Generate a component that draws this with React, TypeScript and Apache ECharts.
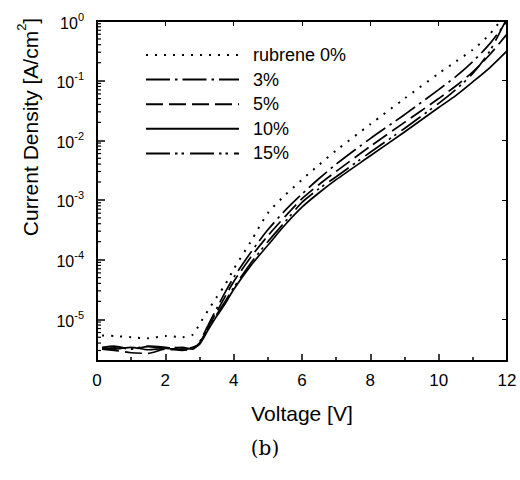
import React, { useEffect, useRef } from 'react';
import * as echarts from 'echarts';

// Voltage [V]
const voltages = [0.15, 0.5, 1.0, 1.5, 2.0, 2.5, 2.8, 3.0, 3.25, 3.5, 3.75, 4.0, 4.5, 5.0, 5.5, 6.0, 6.5, 7.0, 8.0, 9.0, 10.0, 10.5, 11.0, 11.5, 12.0];

// Current density [A/cm^2]
const rubrene0 = [5.37e-6, 5.25e-6, 5.01e-6, 4.79e-6, 5.25e-6, 5.01e-6, 5.5e-6, 8.32e-6, 1.41e-5, 2.34e-5, 3.8e-5, 6.92e-5, 2.0e-4, 6.03e-4, 1.2e-3, 2.19e-3, 3.89e-3, 6.76e-3, 1.86e-2, 5.01e-2, 0.132, 0.209, 0.331, 0.603, 1.41];
const rubrene3 = [3.39e-6, 3.55e-6, 3.16e-6, 3.47e-6, 3.31e-6, 3.39e-6, 3.16e-6, 4.17e-6, 7.94e-6, 1.51e-5, 2.82e-5, 5.01e-5, 1.32e-4, 3.16e-4, 6.61e-4, 1.26e-3, 2.29e-3, 3.98e-3, 1.07e-2, 2.69e-2, 7.08e-2, 0.117, 0.209, 0.417, 1.0];
const rubrene5 = [3.16e-6, 3.02e-6, 2.75e-6, 2.69e-6, 3.16e-6, 3.02e-6, 3.24e-6, 3.98e-6, 7.24e-6, 1.32e-5, 2.4e-5, 4.27e-5, 1.1e-4, 2.51e-4, 5.25e-4, 1.05e-3, 1.82e-3, 3.02e-3, 7.94e-3, 2.0e-2, 5.01e-2, 8.13e-2, 0.141, 0.275, 0.603];
const rubrene10 = [3.31e-6, 3.16e-6, 3.39e-6, 3.09e-6, 3.24e-6, 3.16e-6, 3.31e-6, 3.8e-6, 6.61e-6, 1.12e-5, 1.82e-5, 3.16e-5, 7.94e-5, 1.74e-4, 3.8e-4, 7.59e-4, 1.32e-3, 2.19e-3, 5.5e-3, 1.38e-2, 3.55e-2, 5.62e-2, 9.55e-2, 0.166, 0.316];
const rubrene15 = [3.24e-6, 3.31e-6, 3.24e-6, 3.55e-6, 3.39e-6, 3.16e-6, 3.39e-6, 3.98e-6, 6.92e-6, 1.2e-5, 2.0e-5, 3.39e-5, 8.71e-5, 2.0e-4, 4.27e-4, 9.12e-4, 1.55e-3, 2.45e-3, 6.31e-3, 1.58e-2, 4.17e-2, 7.08e-2, 0.132, 0.316, 1.12];

const seriesNames = ['rubrene 0%', '3%', '5%', '10%', '15%'];
const seriesValues = [rubrene0, rubrene3, rubrene5, rubrene10, rubrene15];

const X_MIN = 0;
const X_MAX = 12;
const Y_MIN = 2e-6;
const Y_MAX = 1;

const FONT = '"Liberation Sans", Arial, sans-serif';

// log-axis minor tick positions (2..9 x 10^n)
const minorTickValues: number[] = [];
for (let n = -6; n <= -1; n++) {
  for (let k = 2; k <= 9; k++) {
    const v = k * Math.pow(10, n);
    if (v >= Y_MIN && v < Y_MAX) minorTickValues.push(v);
  }
}

const dashStyles: any[] = [
  [2, 7],
  [24, 5, 2.5, 5],
  [17, 6],
  'solid',
  [24, 5, 2.5, 4, 2.5, 6],
];

export default function App() {
  const ref = useRef<HTMLDivElement>(null);
  useEffect(() => {
    const chart = echarts.init(ref.current!, null, { renderer: 'svg' });
    const lineSeries = seriesNames.map((name, si) => ({
      name,
      type: 'line',
      xAxisIndex: 0,
      yAxisIndex: 0,
      data: voltages.map((v, i) => [v, seriesValues[si][i]]),
      symbol: 'none',
      symbolSize: 0,
      smooth: 0.25,
      clip: true,
      lineStyle: { color: '#000', width: si === 0 ? 2 : 1.7, type: dashStyles[si] },
      itemStyle: { color: '#000' },
      z: 3,
    }));
    const option: any = {
      animation: false,
      backgroundColor: '#fff',
      textStyle: { fontFamily: FONT, color: '#000' },
      grid: { left: 97, right: 13, top: 21, bottom: 119, containLabel: false },
      legend: {
        data: seriesNames,
        orient: 'vertical',
        left: 140,
        top: 41,
        itemWidth: 93,
        itemHeight: 18,
        itemGap: 6.6,
        itemStyle: { opacity: 0 },
        textStyle: { fontSize: 18, color: '#000', fontFamily: FONT, padding: [0, 0, 0, 9] },
        selectedMode: false,
      },
      xAxis: [
        {
          type: 'value', position: 'bottom', min: X_MIN, max: X_MAX, interval: 2,
          axisLine: { show: true, onZero: false, lineStyle: { color: '#000', width: 2 } },
          axisTick: { show: true, inside: true, length: 7, lineStyle: { color: '#000', width: 1.5 } },
          minorTick: { show: true, splitNumber: 2, length: 4, lineStyle: { color: '#000', width: 1.5 } },
          axisLabel: { fontSize: 17, color: '#000', margin: 11, fontFamily: FONT },
          splitLine: { show: false },
          name: 'Voltage [V]', nameLocation: 'middle', nameGap: 42,
          nameTextStyle: { fontSize: 21, color: '#000', fontFamily: FONT },
        },
        {
          type: 'value', position: 'top', min: X_MIN, max: X_MAX, interval: 2,
          axisLine: { show: true, onZero: false, lineStyle: { color: '#000', width: 2 } },
          axisTick: { show: true, inside: true, length: 5, lineStyle: { color: '#000', width: 1 } },
          axisLabel: { show: false },
          splitLine: { show: false },
        },
      ],
      yAxis: [
        {
          type: 'log', logBase: 10, position: 'left', min: Y_MIN, max: Y_MAX,
          axisLine: { show: true, onZero: false, lineStyle: { color: '#000', width: 2 } },
          axisTick: { show: true, inside: true, length: 8, lineStyle: { color: '#000', width: 1.5 } },
          axisLabel: {
            margin: 13, color: '#000', fontFamily: FONT,
            formatter: (v: number) => {
              const e = Math.log10(v);
              const r = Math.round(e);
              if (Math.abs(e - r) > 1e-6) return '';
              return '{base|10}{sup|' + r + '}';
            },
            rich: {
              base: { fontSize: 16, lineHeight: 20, verticalAlign: 'bottom', color: '#000', fontFamily: FONT },
              sup: { fontSize: 11, lineHeight: 12, verticalAlign: 'top', color: '#000', fontFamily: FONT },
            },
          },
          splitLine: { show: false },
        },
        {
          type: 'log', logBase: 10, position: 'right', min: Y_MIN, max: Y_MAX,
          axisLine: { show: true, onZero: false, lineStyle: { color: '#000', width: 2 } },
          axisTick: { show: true, inside: true, length: 5, lineStyle: { color: '#000', width: 1 } },
          axisLabel: { show: false },
          splitLine: { show: false },
        },
      ],
      series: [
        ...lineSeries,
        {
          type: 'custom',
          name: 'minorTicks',
          xAxisIndex: 0,
          yAxisIndex: 0,
          silent: true,
          clip: false,
          z: 4,
          data: minorTickValues.map((v) => [X_MIN, v]),
          renderItem: (params: any, api: any) => {
            const p = api.coord([X_MIN, api.value(1)]);
            return {
              type: 'line',
              shape: { x1: p[0], y1: p[1], x2: p[0] + 4, y2: p[1] },
              style: { stroke: '#000', lineWidth: 1.2 },
            };
          },
        },
      ],
      graphic: [
        {
          type: 'text',
          x: 28,
          y: 127,
          rotation: Math.PI / 2,
          style: {
            text: '{b|Current Density [A/cm}{sup|2}{b|]}',
            align: 'center',
            verticalAlign: 'middle',
            fill: '#000',
            fontFamily: FONT,
            fontSize: 21,
            rich: {
              b: { fontSize: 21, lineHeight: 26, verticalAlign: 'bottom', fontFamily: FONT, fill: '#000' },
              sup: { fontSize: 13, lineHeight: 14, verticalAlign: 'top', fontFamily: FONT, fill: '#000' },
            },
          },
        },
        {
          type: 'text',
          x: 265,
          y: 448,
          style: {
            text: '(b)',
            align: 'center',
            verticalAlign: 'middle',
            fill: '#000',
            fontFamily: '"DejaVu Serif", "Liberation Serif", serif',
            fontSize: 20,
          },
        },
      ],
    };
    chart.setOption(option);
    return () => chart.dispose();
  }, []);
  return (
    <div
      ref={ref}
      style={{ position: 'absolute', left: 0, top: 0, width: 520, height: 480, background: '#fff' }}
    />
  );
}
